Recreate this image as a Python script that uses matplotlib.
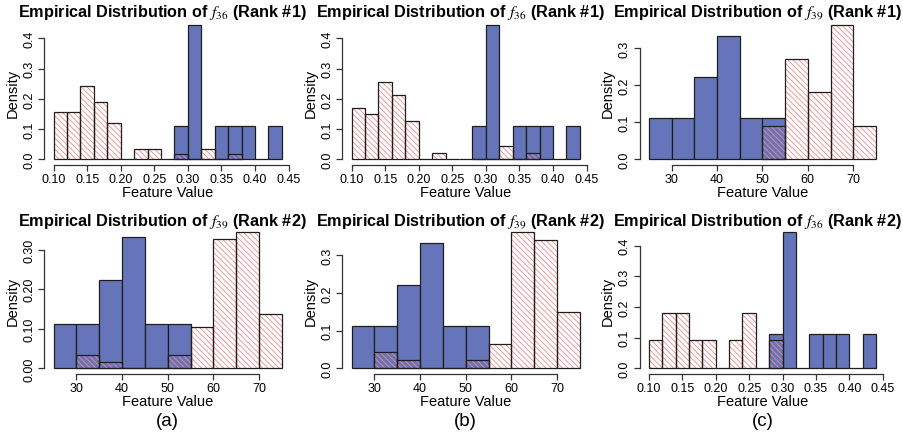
import numpy as np
import matplotlib.pyplot as plt

plt.rcParams['font.family'] = ['Liberation Sans', 'DejaVu Sans']
plt.rcParams['mathtext.fontset'] = 'stix'
plt.rcParams['hatch.linewidth'] = 0.6

# bin edges (left edges) for the two features
f36_left = np.round(np.arange(0.10, 0.44, 0.02), 2)
f39_left = np.arange(25, 75, 5)
f36_w = 0.02
f39_w = 5

# counts per bin (blue = class 1, red hatched = class 2)
f36_blue = [0, 0, 0, 0, 0, 0, 0, 0, 0, 1, 4, 0, 1, 1, 1, 0, 1]
f39_blue = [1, 1, 2, 3, 1, 1, 0, 0, 0, 0]

f36_red_a = [9, 9, 14, 11, 7, 0, 2, 2, 0, 1, 0, 2, 0, 1, 0, 0, 0]
f36_red_b = [8, 7, 12, 10, 6, 0, 1, 0, 0, 0, 0, 2, 0, 1, 0, 0, 0]
f36_red_c = [1, 2, 2, 1, 1, 0, 1, 2, 0, 1, 0, 0, 0, 0, 0, 0, 0]

f39_red_a = [0, 2, 1, 0, 0, 2, 6, 19, 20, 8]
f39_red_b = [0, 2, 1, 0, 0, 1, 3, 17, 16, 7]
f39_red_c = [0, 0, 0, 0, 0, 1, 3, 2, 4, 1]

BLUE = '#6675B9'
HATCH = '#F28A8A'
EDGE = '#1e1e1e'

W, H = 904, 439
fig = plt.figure(figsize=(W / 100, H / 100), dpi=100)

cols = [(44.5, 291), (342.5, 589), (640, 885)]
rows = [(20.6, 165.7), (227.5, 374.8)]


def px_ax(x0, x1, y0, y1):
    return fig.add_axes([x0 / W, 1 - y1 / H, (x1 - x0) / W, (y1 - y0) / H])


def draw_hist(ax, left, width, counts, blue):
    counts = np.array(counts, dtype=float)
    dens = counts / counts.sum()
    nz = np.nonzero(counts)[0]
    sl = slice(nz[0], nz[-1] + 1)
    x = left[sl]
    d = dens[sl]
    if blue:
        ax.bar(x, d, width=width, align='edge', color=BLUE, edgecolor=EDGE,
               linewidth=0.9, zorder=1)
    else:
        ax.bar(x, d, width=width, align='edge', facecolor='none', edgecolor=HATCH,
               hatch='\\' * 6, linewidth=0, zorder=2)
        ax.bar(x, d, width=width, align='edge', facecolor='none', edgecolor=EDGE,
               linewidth=0.9, zorder=3)
    return d.max()


def panel(r, c, feat, red, rank, yticks, yfmt):
    x0, x1 = cols[c]
    y0, y1 = rows[r]
    ax = px_ax(x0, x1, y0, y1)
    if feat == 36:
        left, w, blue_c = f36_left, f36_w, f36_blue
        xticks = np.round(np.arange(0.10, 0.451, 0.05), 2)
        xlabels = ['%.2f' % v for v in xticks]
        lo, hi = 0.10, 0.44
    else:
        left, w, blue_c = f39_left, f39_w, f39_blue
        xticks = [30, 40, 50, 60, 70]
        xlabels = [str(v) for v in xticks]
        lo, hi = 25, 75
    m1 = draw_hist(ax, left, w, blue_c, True)
    m2 = draw_hist(ax, left, w, red, False)
    ymax = max(m1, m2)
    span = hi - lo
    ax.set_xlim(lo - 0.04 * span, hi + 0.04 * span)
    ax.set_ylim(-0.04 * ymax, 1.04 * ymax)

    for s in ['top', 'right']:
        ax.spines[s].set_visible(False)
    for s in ['left', 'bottom']:
        ax.spines[s].set_linewidth(0.9)
        ax.spines[s].set_color('#333333')
    ax.spines['left'].set_bounds(yticks[0], yticks[-1])
    ax.spines['bottom'].set_bounds(xticks[0], xticks[-1])
    ax.set_xticks(xticks)
    ax.set_xticklabels(xlabels)
    ax.set_yticks(yticks)
    ax.set_yticklabels([yfmt % v for v in yticks], rotation=90, va='center')
    ax.tick_params(length=4.5, width=0.9, color='#333333', labelsize=9, pad=1.5)
    ax.tick_params(axis='y', pad=2)
    ax.set_xlabel('Feature Value', fontsize=10.5, labelpad=0)
    ax.set_ylabel('Density', fontsize=10.5, labelpad=3)

    cx = (x0 + x1) / 2 - 5
    ty = 13 if r == 0 else 221.5
    fig.text(cx / W, 1 - ty / H,
             'Empirical Distribution of $\\mathit{f}_{\\mathit{%d}}$ (Rank #%d)' % (feat, rank),
             ha='center', va='center', fontsize=11.7, fontweight='bold')
    return ax


t4 = [0.0, 0.1, 0.2, 0.3, 0.4]
t3 = [0.0, 0.1, 0.2, 0.3]

panel(0, 0, 36, f36_red_a, 1, t4, '%.1f')
panel(1, 0, 39, f39_red_a, 2, t3, '%.2f')
panel(0, 1, 36, f36_red_b, 1, t4, '%.1f')
panel(1, 1, 39, f39_red_b, 2, t3, '%.1f')
panel(0, 2, 39, f39_red_c, 1, t3, '%.1f')
panel(1, 2, 36, f36_red_c, 2, t4, '%.1f')

for c, lab in zip(range(3), ['(a)', '(b)', '(c)']):
    cx = (cols[c][0] + cols[c][1]) / 2
    fig.text(cx / W, 1 - 422 / H, lab, ha='center', va='center', fontsize=13.5)

fig.savefig('out.png', dpi=100)
